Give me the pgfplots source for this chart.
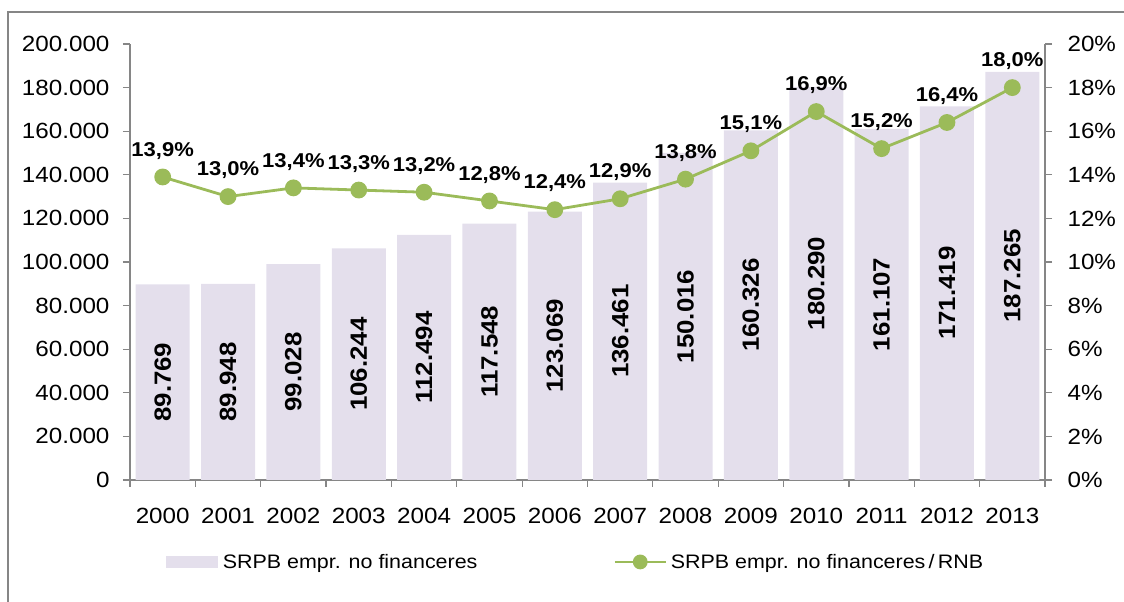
\documentclass[border=0pt]{standalone}
\usepackage{fontspec}
\setmainfont{Liberation Sans}[FakeStretch=1.1]
\usepackage{pgfplots}
\pgfplotsset{compat=1.18}
\usepackage{pgfplotstable}
\definecolor{barcol}{RGB}{228,223,236}
\definecolor{linecol}{RGB}{155,187,89}
\definecolor{axcol}{RGB}{134,134,134}

% i: position, v: SRPB (thousands), pct: SRPB / RNB (%)
\pgfplotstableread{
i year v pct
0 2000 89769 13.9
1 2001 89948 13.0
2 2002 99028 13.4
3 2003 106244 13.3
4 2004 112494 13.2
5 2005 117548 12.8
6 2006 123069 12.4
7 2007 136461 12.9
8 2008 150016 13.8
9 2009 160326 15.1
10 2010 180290 16.9
11 2011 161107 15.2
12 2012 171419 16.4
13 2013 187265 18.0
}\data

\pgfplotsset{
  common/.style={
    at={(130pt,122pt)}, anchor=south west,
    scale only axis, width=915pt, height=436pt,
    xmin=-0.5, xmax=13.5,
    axis line style={axcol, line width=1.2pt},
    tick style={axcol, line width=1.2pt},
    tick label style={font=\fontsize{22}{26}\selectfont},
    /pgf/number format/assume math mode=true,
    major tick length=7pt, minor tick length=7pt,
    tick align=outside,
  },
}

\begin{document}
\begin{tikzpicture}[x=1pt,y=1pt]
\useasboundingbox (0,0) rectangle (1124,602);
\draw[axcol, line width=1.2pt] (8,-10) -- (8,590) -- (1140,590);

\begin{axis}[
  common,
  ymin=0, ymax=200000,
  axis y line*=left, axis x line*=bottom,
  ytick={0,20000,...,200000},
  scaled y ticks=false,
  yticklabel style={/pgf/number format/.cd, fixed, 1000 sep={.}, /tikz/.cd, xshift=-10pt},
  xtick={0,...,13},
  xticklabels={2000,2001,2002,2003,2004,2005,2006,2007,2008,2009,2010,2011,2012,2013},
  xticklabel style={yshift=-18pt},
  major x tick style={draw=none},
  minor xtick={-0.5,0.5,...,13.5},
  ytick pos=left, xtick pos=bottom,
  clip=false,
]
\addplot[ybar, bar width=54pt, fill=barcol, draw=none] table[x=i, y=v] {\data};
% labels centred inside the bars
\addplot[draw=none, mark=none, forget plot,
  point meta=\thisrow{v},
  nodes near coords={\pgfmathprintnumber[fixed, precision=0, 1000 sep={.}, assume math mode=true]{\pgfplotspointmeta}},
  every node near coord/.style={rotate=90, anchor=center, font=\fontsize{23.5}{26}\selectfont\bfseries},
] table[x=i, y expr=\thisrow{v}/2] {\data};
\end{axis}

\begin{axis}[
  common,
  ymin=0, ymax=20,
  axis y line*=right, axis x line=none,
  ytick={0,2,...,20},
  yticklabel={\pgfmathprintnumber{\tick}\%},
  yticklabel style={xshift=12pt},
  clip=false,
  legend columns=2,
  legend style={at={(0.5,-0.188)}, anchor=center, xshift=-12pt, draw=none, fill=none,
    font=\fontsize{19.5}{24}\selectfont,
    /tikz/every even column/.append style={column sep=134pt}},
  legend cell align=left,
]
\addlegendimage{legend image code/.code={\path[draw=none, fill=none] (0pt,0pt) -- (55pt,0pt);
    \fill[barcol, draw=none] (0pt,-6pt) rectangle (52pt,6pt);}}
\addlegendentry{SRPB empr. no financeres}
\addplot[linecol, line width=2.8pt, mark=*, mark size=7pt,
  mark options={fill=linecol, draw=linecol},
  legend image code/.code={\path[draw=none, fill=none] (0pt,0pt) -- (54pt,0pt);
    \draw[linecol, line width=2.5pt] (0pt,0pt) -- (51pt,0pt);
    \fill[linecol] (25.5pt,0pt) circle (6pt);},
  point meta=\thisrow{pct},
  nodes near coords={\pgfmathprintnumber[fixed, fixed zerofill, precision=1, use comma, assume math mode=true]{\pgfplotspointmeta}\%},
  every node near coord/.style={anchor=south, yshift=13pt, font=\fontsize{20}{24}\selectfont\bfseries, text=black},
] table[x=i, y=pct] {\data};
\addlegendentry{SRPB empr. no financeres\,/\,RNB}
\end{axis}
\end{tikzpicture}
\end{document}
